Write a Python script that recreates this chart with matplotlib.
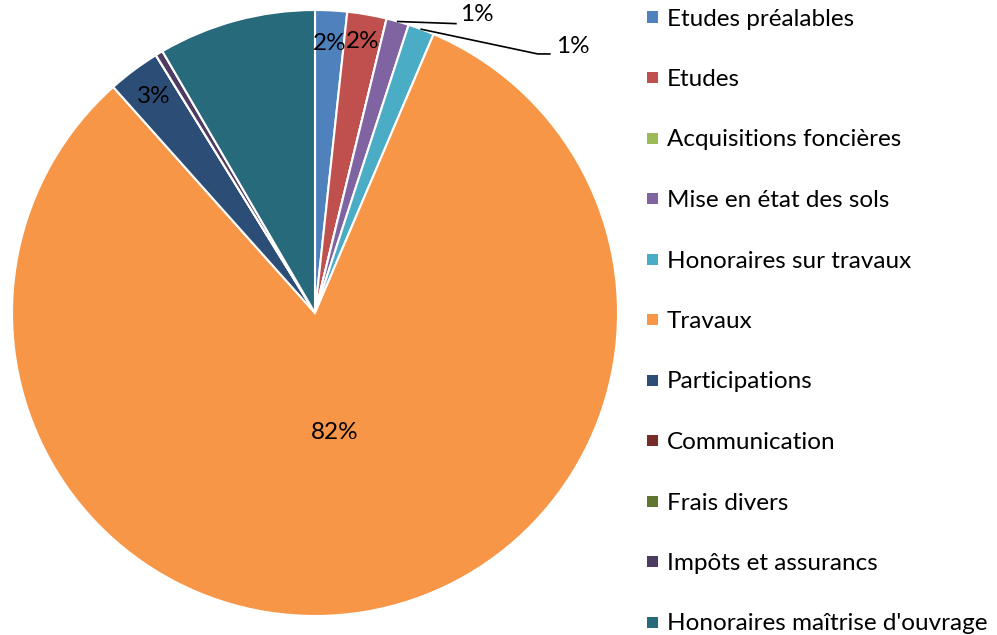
import matplotlib
matplotlib.use("Agg")
import matplotlib.pyplot as plt
import numpy as np
from matplotlib.patches import Rectangle

categories = ["Etudes préalables", "Etudes", "Acquisitions foncières", "Mise en état des sols",
              "Honoraires sur travaux", "Travaux", "Participations", "Communication",
              "Frais divers", "Impôts et assurancs", "Honoraires maîtrise d'ouvrage"]
values = [1.7, 2.1, 0.0, 1.2, 1.4, 82.0, 2.8, 0.0, 0.0, 0.4, 8.4]
colors = ["#4F81BD", "#C0504D", "#9BBB59", "#8064A2", "#4BACC6", "#F79646",
          "#2C4D75", "#772C2A", "#5F7530", "#4D3B62", "#276A7C"]
labeled = [0, 1, 3, 4, 5, 6]

plt.rcParams['font.family'] = ['Lato', 'DejaVu Sans']
FS = 17.5

W, H = 997, 635
fig = plt.figure(figsize=(W / 100, H / 100), dpi=100)
cx, cy, R = 315, 313, 303
ax = fig.add_axes([(cx - R) / W, (H - cy - R) / H, 2 * R / W, 2 * R / H])
wedges, _ = ax.pie(values, colors=colors, startangle=90, counterclock=False,
                   radius=1, wedgeprops=dict(edgecolor="white", linewidth=1.5))
ax.set_xlim(-1, 1)
ax.set_ylim(-1, 1)
ax.set_aspect("equal")
ax.axis("off")

total = sum(values)
radial = {0: 0.89, 1: 0.91, 5: 0.40, 6: 0.89}
for i in labeled:
    w = wedges[i]
    mid = np.deg2rad((w.theta1 + w.theta2) / 2)
    pct = f"{round(values[i] / total * 100):d}%"
    if i in radial:
        r = radial[i]
        ax.text(r * np.cos(mid), r * np.sin(mid), pct, ha="center", va="center", fontsize=FS)
    else:
        ex, ey = np.cos(mid), np.sin(mid)
        if i == 3:
            tx, ty = 0.465, 0.955
            ax.plot([ex, tx], [ey, ty], color="black", lw=1.2)
            ax.text(tx + 0.015, ty + 0.03, pct, ha="left", va="center", fontsize=FS)
        else:
            kx, ky = 0.735, 0.855
            ax.plot([ex, kx, kx + 0.04], [ey, ky, ky], color="black", lw=1.2)
            ax.text(kx + 0.06, ky + 0.025, pct, ha="left", va="center", fontsize=FS)

# legend, drawn row by row in figure pixels
x_sq, x_txt, y0, dy, sq = 647, 667, 17, 60.5, 11
for k, (name, c) in enumerate(zip(categories, colors)):
    yc = y0 + k * dy
    fig.patches.append(Rectangle((x_sq / W, 1 - (yc + sq / 2) / H), sq / W, sq / H,
                                 transform=fig.transFigure, facecolor=c, edgecolor="none"))
    fig.text(x_txt / W, 1 - yc / H, name, ha="left", va="center_baseline", fontsize=FS)

fig.savefig("out.png", dpi=100)
